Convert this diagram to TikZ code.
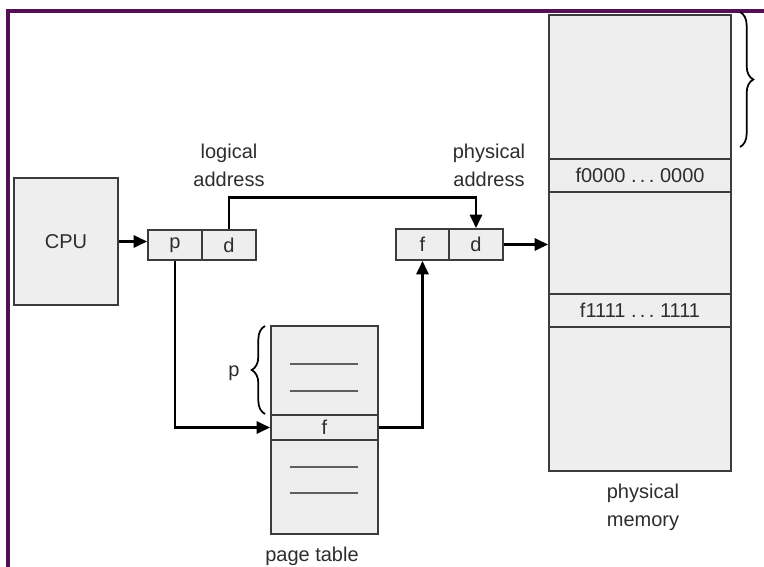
\documentclass[tikz,border=0pt]{standalone}
\usepackage{fontspec}
\setmainfont{Liberation Sans}
\usetikzlibrary{arrows.meta,decorations.pathreplacing}
\definecolor{framepurple}{RGB}{85,15,85}
\definecolor{boxgray}{RGB}{238,238,238}
\definecolor{edgegray}{RGB}{60,60,60}
\definecolor{textgray}{RGB}{45,45,45}
\definecolor{entrygray}{RGB}{95,95,95}

\begin{document}
\begin{tikzpicture}[x=0.75pt,y=-0.75pt,
    font=\fontsize{15}{21}\selectfont, text=textgray,
    cell/.style={draw=edgegray, fill=boxgray, line width=1.4pt, inner sep=0pt},
    link/.style={line width=2.2pt, -{Triangle[length=10pt,width=9pt]}},
    entry/.style={entrygray, line width=1.5pt},
    curly/.style={black, line width=1.3pt, decorate, decoration={brace, amplitude=10pt}}]
      \useasboundingbox (0,0) rectangle (764,567);

      % Frame
      \draw[framepurple, line width=2.6pt] (8,567) -- (8,11) -- (764,11);

      % CPU
      \node[cell, minimum width=78pt, minimum height=95.25pt] (cpu) at (66,241.5) {CPU};

      % Logical address
      \node[cell, minimum width=40.5pt, minimum height=22.5pt] (lp) at (175,245) {p};
      \node[cell, minimum width=40.5pt, minimum height=22.5pt] (ld) at (229,245) {d};
      \node[align=center] (laddr) at (229,165) {logical\\address};

      % Physical address
      \node[cell, minimum width=40pt, minimum height=23.25pt] (pf) at (422.5,244.5) {f};
      \node[cell, minimum width=40pt, minimum height=23.25pt] (pd) at (476,244.5) {d};
      \node[align=center] (paddr) at (489,165) {physical\\address};

      % Physical memory
      \node[cell, minimum width=136.5pt, minimum height=108pt] (memtop) at (640,87) {};
      \node[cell, minimum width=136.5pt, minimum height=24.75pt] (frame0) at (640,175.5) {f0000\ .\,.\,.\ 0000};
      \node[cell, minimum width=136.5pt, minimum height=76.5pt] (memmid) at (640,243) {};
      \node[cell, minimum width=136.5pt, minimum height=24.75pt] (frame1) at (640,310.5) {f1111\ .\,.\,.\ 1111};
      \node[cell, minimum width=136.5pt, minimum height=108pt] (membot) at (640,399) {};
      \node[align=center] (memlabel) at (643,507) {physical\\memory};
      \draw[curly] (740,12) -- (740,147);

      % Page table
      \node[cell, minimum width=80.25pt, minimum height=66.75pt] (ptop) at (324.5,370.5) {};
      \node[cell, minimum width=80.25pt, minimum height=18.75pt] (prow) at (324.5,427.5) {f};
      \node[cell, minimum width=80.25pt, minimum height=70.5pt] (pbot) at (324.5,487) {};
      \foreach \y in {364,391,467,493}
        \draw[entry] (290,\y) -- (358,\y);
      \draw[curly] (265,414) -- (265,326);
      \node (pidx) at (234,373) {p};
      \node (ptlabel) at (312,556) {page table};

      % Connectors
      \draw[link] (cpu.east) -- (cpu.east -| lp.west);
      \draw[link] (ld.north) -- ++(0,-32) -| (pd.north);
      \draw[link] (pd.east) -- (pd.east -| memmid.west);
      \draw[link] (lp.south) |- (prow.west);
      \draw[link] (prow.east) -| (pf.south);
    \end{tikzpicture}
\end{document}
